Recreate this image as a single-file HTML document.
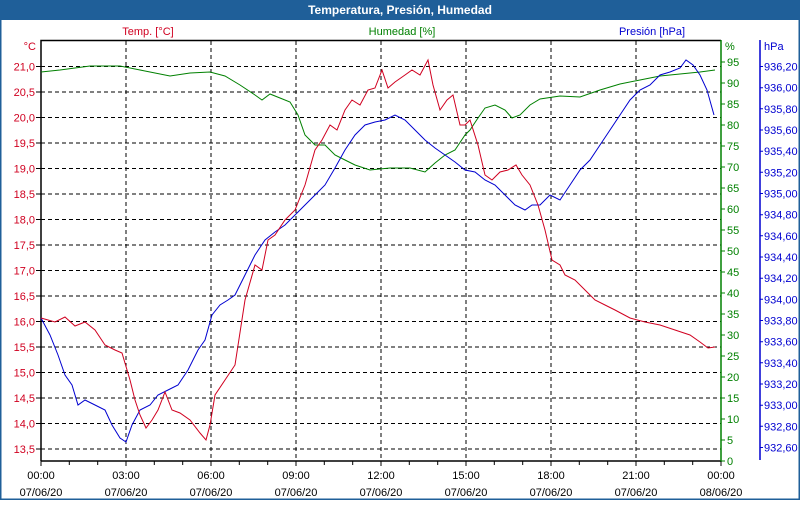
<!DOCTYPE html>
<html><head><meta charset="utf-8"><style>
html,body{margin:0;padding:0;background:#fff;}
svg text{font-family:"Liberation Sans",sans-serif;font-size:11px;}
</style></head><body>
<svg width="800" height="500" viewBox="0 0 800 500" xmlns="http://www.w3.org/2000/svg">
<rect x="0" y="0" width="800" height="500" fill="#fff"/>
<rect x="0" y="0" width="800" height="20" fill="#1f5f99"/>
<rect x="0.75" y="0.75" width="798.5" height="498.5" fill="none" stroke="#1f5f99" stroke-width="1.5"/>
<text x="400" y="14" text-anchor="middle" fill="#fff" font-weight="bold" style="font-size:12px">Temperatura, Presión, Humedad</text>
<text x="148" y="35" text-anchor="middle" fill="#d00020">Temp. [°C]</text>
<text x="402" y="35" text-anchor="middle" fill="#008000">Humedad [%]</text>
<text x="652" y="35" text-anchor="middle" fill="#0000d0">Presión [hPa]</text>
<text x="36" y="50" text-anchor="end" fill="#d00020">°C</text>
<text x="725" y="50" fill="#008000">%</text>
<text x="764" y="50" fill="#0000d0">hPa</text>
<g stroke="#000" stroke-dasharray="4,3" stroke-width="1">
<line x1="126" y1="41" x2="126" y2="461"/><line x1="211" y1="41" x2="211" y2="461"/><line x1="296" y1="41" x2="296" y2="461"/><line x1="381" y1="41" x2="381" y2="461"/><line x1="466" y1="41" x2="466" y2="461"/><line x1="551" y1="41" x2="551" y2="461"/><line x1="636" y1="41" x2="636" y2="461"/>
<line x1="41" y1="66.5" x2="721" y2="66.5"/><line x1="41" y1="92" x2="721" y2="92"/><line x1="41" y1="117.5" x2="721" y2="117.5"/><line x1="41" y1="143" x2="721" y2="143"/><line x1="41" y1="168.5" x2="721" y2="168.5"/><line x1="41" y1="194" x2="721" y2="194"/><line x1="41" y1="219.5" x2="721" y2="219.5"/><line x1="41" y1="245" x2="721" y2="245"/><line x1="41" y1="270.5" x2="721" y2="270.5"/><line x1="41" y1="296" x2="721" y2="296"/><line x1="41" y1="321.5" x2="721" y2="321.5"/><line x1="41" y1="347" x2="721" y2="347"/><line x1="41" y1="372.5" x2="721" y2="372.5"/><line x1="41" y1="398" x2="721" y2="398"/><line x1="41" y1="423.5" x2="721" y2="423.5"/><line x1="41" y1="449" x2="721" y2="449"/>
</g>
<polyline fill="none" stroke="#000" stroke-width="1.5" points="41,461 41,40.5 721,40.5"/>
<line x1="41" y1="461" x2="721" y2="461" stroke="#000" stroke-width="1.5"/>
<line x1="721" y1="40" x2="721" y2="462" stroke="#008000" stroke-width="1.5"/>
<line x1="760" y1="40" x2="760" y2="460" stroke="#0000d0" stroke-width="1.5"/>
<g stroke="#000">
<path d="M41,461v5M69.3,461v4M97.7,461v4M126,461v5M154.3,461v4M182.7,461v4M211,461v5M239.3,461v4M267.7,461v4M296,461v5M324.3,461v4M352.7,461v4M381,461v5M409.3,461v4M437.7,461v4M466,461v5M494.3,461v4M522.7,461v4M551,461v5M579.3,461v4M607.7,461v4M636,461v5M664.3,461v4M692.7,461v4M721,461v5"/>
<path d="M36,66.5h5M36,92h5M36,117.5h5M36,143h5M36,168.5h5M36,194h5M36,219.5h5M36,245h5M36,270.5h5M36,296h5M36,321.5h5M36,347h5M36,372.5h5M36,398h5M36,423.5h5M36,449h5"/>
</g>
<g fill="#d00020" text-anchor="end">
<text x="35" y="70.5">21,0</text><text x="35" y="96">20,5</text><text x="35" y="121.5">20,0</text><text x="35" y="147">19,5</text><text x="35" y="172.5">19,0</text><text x="35" y="198">18,5</text><text x="35" y="223.5">18,0</text><text x="35" y="249">17,5</text><text x="35" y="274.5">17,0</text><text x="35" y="300">16,5</text><text x="35" y="325.5">16,0</text><text x="35" y="351">15,5</text><text x="35" y="376.5">15,0</text><text x="35" y="402">14,5</text><text x="35" y="427.5">14,0</text><text x="35" y="453">13,5</text>
</g>
<g id="g" stroke="#008000"></g>
<g fill="#008000">
<text x="727" y="66">95</text><text x="727" y="87">90</text><text x="727" y="108">85</text><text x="727" y="129">80</text><text x="727" y="150">75</text><text x="727" y="171">70</text><text x="727" y="192">65</text><text x="727" y="213">60</text><text x="727" y="234">55</text><text x="727" y="255">50</text><text x="727" y="276">45</text><text x="727" y="297">40</text><text x="727" y="318">35</text><text x="727" y="339">30</text><text x="727" y="360">25</text><text x="727" y="381">20</text><text x="727" y="402">15</text><text x="727" y="423">10</text><text x="727" y="444">5</text><text x="727" y="465">0</text>
</g>
<path stroke="#008000" d="M721,62h4M721,83h4M721,104h4M721,125h4M721,146h4M721,167h4M721,188h4M721,209h4M721,230h4M721,251h4M721,272h4M721,293h4M721,314h4M721,335h4M721,356h4M721,377h4M721,398h4M721,419h4M721,440h4M721,461h4"/>
<g fill="#0000d0">
<text x="764" y="70.5">936,20</text><text x="764" y="91.7">936,00</text><text x="764" y="112.8">935,80</text><text x="764" y="134">935,60</text><text x="764" y="155.2">935,40</text><text x="764" y="176.3">935,20</text><text x="764" y="197.5">935,00</text><text x="764" y="218.7">934,80</text><text x="764" y="239.8">934,60</text><text x="764" y="261">934,40</text><text x="764" y="282.2">934,20</text><text x="764" y="303.3">934,00</text><text x="764" y="324.5">933,80</text><text x="764" y="345.7">933,60</text><text x="764" y="366.8">933,40</text><text x="764" y="388">933,20</text><text x="764" y="409.2">933,00</text><text x="764" y="430.3">932,80</text><text x="764" y="451.5">932,60</text>
</g>
<path stroke="#0000d0" d="M760,66.5h3M760,87.7h3M760,108.8h3M760,130h3M760,151.2h3M760,172.3h3M760,193.5h3M760,214.7h3M760,235.8h3M760,257h3M760,278.2h3M760,299.3h3M760,320.5h3M760,341.7h3M760,362.8h3M760,384h3M760,405.2h3M760,426.3h3M760,447.5h3"/>
<g fill="#000" text-anchor="middle">
<text x="41" y="479">00:00</text><text x="41" y="496">07/06/20</text>
<text x="126" y="479">03:00</text><text x="126" y="496">07/06/20</text>
<text x="211" y="479">06:00</text><text x="211" y="496">07/06/20</text>
<text x="296" y="479">09:00</text><text x="296" y="496">07/06/20</text>
<text x="381" y="479">12:00</text><text x="381" y="496">07/06/20</text>
<text x="466" y="479">15:00</text><text x="466" y="496">07/06/20</text>
<text x="551" y="479">18:00</text><text x="551" y="496">07/06/20</text>
<text x="636" y="479">21:00</text><text x="636" y="496">07/06/20</text>
<text x="721" y="479">00:00</text><text x="721" y="496">08/06/20</text>
</g>
<polyline fill="none" stroke="#008000" stroke-width="1" points="41,72 60,70 90,66 120,66 140,70 170,76 190,73 210,72 225,76 240,85 255,95 262,100 270,94 280,98 290,102 298,115 305,135 315,145 325,145 335,155 345,160 355,165 370,170 390,168 410,168 425,172 435,163 445,155 455,150 465,135 470,130 478,118 485,108 495,105 505,110 512,118 520,115 530,105 540,99 560,96 580,97 600,90 620,84 640,80 660,76 680,74 700,72 715,70"/>
<polyline fill="none" stroke="#0000d0" stroke-width="1" points="41,318 50,335 58,355 65,375 72,385 78,405 85,400 95,405 105,410 112,425 120,438 126,442 132,425 140,410 150,405 158,395 168,390 178,385 188,370 198,350 205,340 212,315 220,305 228,300 235,295 245,275 255,255 265,240 275,232 285,225 295,215 305,205 315,195 325,185 335,168 345,150 355,135 365,125 375,122 385,120 395,115 405,120 415,130 425,140 435,148 445,155 455,162 465,170 475,172 485,180 495,185 505,195 515,205 525,210 532,205 540,205 550,195 560,200 570,185 580,170 590,160 600,145 610,130 620,115 630,100 640,90 650,85 660,75 670,72 680,68 686,60 693,65 700,75 707,90 714,115"/>
<polyline fill="none" stroke="#d00020" stroke-width="1" points="41,318 55,322 65,317 75,326 85,322 95,330 105,345 115,350 122,353 130,380 135,400 140,415 146,428 152,420 158,410 165,392 172,410 180,413 190,420 200,433 206,440 210,425 215,395 225,380 235,365 245,300 255,265 262,270 268,240 275,235 285,220 295,210 305,185 315,150 322,140 330,125 337,130 345,110 352,100 360,105 368,90 375,88 382,70 388,88 395,82 405,75 412,70 420,75 428,60 433,85 440,110 447,100 453,95 460,125 465,125 470,120 478,145 485,175 492,180 500,172 508,170 516,165 522,175 530,185 538,205 545,230 552,260 560,265 565,275 575,280 585,290 595,300 605,305 615,310 630,318 645,322 660,325 675,330 690,335 700,342 708,348 715,347"/>
</svg>
</body></html>
